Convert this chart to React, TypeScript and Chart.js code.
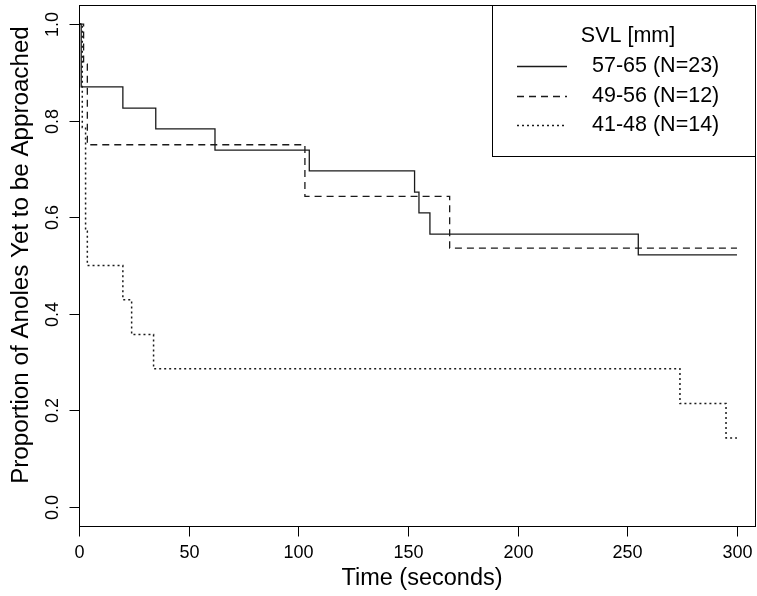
import React, { useEffect, useRef } from 'react';
import { Chart, registerables } from 'chart.js';

Chart.register(...registerables);

// ---- Data (Kaplan-Meier step functions) ----
const legendTitle = 'SVL [mm]';
const seriesLabels = ['57-65 (N=23)', '49-56 (N=12)', '41-48 (N=14)'];

const largeTimes = [0, 1, 20, 35, 62, 105, 153, 155, 160, 255, 300];
const largeSurv = [1, 0.870, 0.826, 0.783, 0.739, 0.696, 0.652, 0.609, 0.565, 0.522, 0.522];

const mediumTimes = [0, 2.1, 3.8, 103, 169, 300];
const mediumSurv = [1, 0.917, 0.75, 0.643, 0.536, 0.536];

const smallTimes = [0, 1.5, 3, 3.8, 20, 24, 34, 274, 295, 300];
const smallSurv = [1, 0.786, 0.571, 0.5, 0.429, 0.357, 0.286, 0.214, 0.143, 0.143];

const xTicks = [0, 50, 100, 150, 200, 250, 300];
const yTicks = [0, 0.2, 0.4, 0.6, 0.8, 1.0];
const xTitle = 'Time (seconds)';
const yTitle = 'Proportion of Anoles Yet to be Approached';

const FONT = '"Liberation Sans", Arial, Helvetica, sans-serif';
const LINE_COLOR = '#1a1a1a';

const toPoints = (xs: number[], ys: number[]) => xs.map((x, i) => ({ x, y: ys[i] }));

const rAxesPlugin = {
  id: 'rAxes',
  afterDraw(chart: any) {
    const { ctx, chartArea } = chart;
    const xs = chart.scales.x;
    const ys = chart.scales.y;
    const L = chartArea.left, R = chartArea.right, T = chartArea.top, B = chartArea.bottom;
    ctx.save();
    ctx.strokeStyle = '#000';
    ctx.lineWidth = 1;
    ctx.setLineDash([]);
    // box
    ctx.strokeRect(L + 0.5, T + 0.5, R - L - 1, B - T);
    // x ticks
    ctx.fillStyle = '#000';
    ctx.font = `18px ${FONT}`;
    ctx.textAlign = 'center';
    ctx.textBaseline = 'middle';
    xTicks.forEach((v) => {
      const px = Math.round(xs.getPixelForValue(v)) + 0.5;
      ctx.beginPath();
      ctx.moveTo(px, B + 0.5);
      ctx.lineTo(px, B + 10.5);
      ctx.stroke();
      ctx.fillText(String(v), px, B + 27);
    });
    // y ticks
    yTicks.forEach((v) => {
      const py = Math.round(ys.getPixelForValue(v)) + 0.5;
      ctx.beginPath();
      ctx.moveTo(L + 0.5, py);
      ctx.lineTo(L - 9.5, py);
      ctx.stroke();
      ctx.save();
      ctx.translate(L - 26, py);
      ctx.rotate(-Math.PI / 2);
      ctx.fillText(v.toFixed(1), 0, 0);
      ctx.restore();
    });
    // axis titles
    ctx.font = `23.5px ${FONT}`;
    ctx.fillText(xTitle, 422, 579);
    ctx.font = `24.2px ${FONT}`;
    ctx.save();
    ctx.translate(21, 255);
    ctx.rotate(-Math.PI / 2);
    ctx.fillText(yTitle, 0, 0);
    ctx.restore();

    // legend
    const lx0 = 492.5;
    const ly1 = 156.5;
    ctx.fillStyle = '#fff';
    ctx.fillRect(lx0, T + 0.5, R - 0.5 - lx0, ly1 - T - 0.5);
    ctx.strokeRect(lx0, T + 0.5, R - 0.5 - lx0, ly1 - T - 0.5);
    ctx.fillStyle = '#000';
    ctx.font = `21.5px ${FONT}`;
    ctx.textAlign = 'center';
    ctx.fillText(legendTitle, 628, 36);
    const rowY = [66, 96, 125];
    chart.data.datasets.forEach((ds: any, i: number) => {
      const y = rowY[i] + 0.5;
      ctx.save();
      ctx.strokeStyle = ds.borderColor;
      ctx.lineWidth = ds.borderWidth;
      ctx.setLineDash(ds.borderDash || []);
      ctx.beginPath();
      ctx.moveTo(517, y);
      ctx.lineTo(567, y);
      ctx.stroke();
      ctx.restore();
      ctx.textAlign = 'left';
      ctx.fillText(ds.label, 592, rowY[i]);
    });
    ctx.restore();
  },
};

export default function App() {
  const canvasRef = useRef<HTMLCanvasElement | null>(null);

  useEffect(() => {
    const canvas = canvasRef.current;
    if (!canvas) return;
    const common = {
      borderColor: LINE_COLOR,
      borderWidth: 1.3,
      pointRadius: 0,
      stepped: 'before' as const,
      fill: false,
      tension: 0,
    };
    const chart = new Chart(canvas, {
      type: 'line',
      data: {
        datasets: [
          { ...common, label: seriesLabels[0], data: toPoints(largeTimes, largeSurv), borderDash: [] },
          { ...common, label: seriesLabels[1], data: toPoints(mediumTimes, mediumSurv), borderDash: [7, 5] },
          { ...common, label: seriesLabels[2], data: toPoints(smallTimes, smallSurv), borderDash: [2, 3], borderWidth: 1.5 },
        ],
      },
      options: {
        animation: false,
        responsive: false,
        devicePixelRatio: 1,
        layout: { padding: { left: 79, top: 5, right: 1, bottom: 70 } },
        plugins: { legend: { display: false }, tooltip: { enabled: false }, title: { display: false } },
        scales: {
          x: { type: 'linear', min: 0, max: 308.67, display: false },
          y: { type: 'linear', min: -0.0394, max: 1.0394, display: false },
        },
      },
      plugins: [rAxesPlugin],
    });
    return () => chart.destroy();
  }, []);

  return (
    <div style={{ position: 'fixed', left: 0, top: 0, width: 757, height: 596, background: '#fff' }}>
      <canvas ref={canvasRef} width={757} height={596} style={{ width: 757, height: 596, display: 'block' }} />
    </div>
  );
}
